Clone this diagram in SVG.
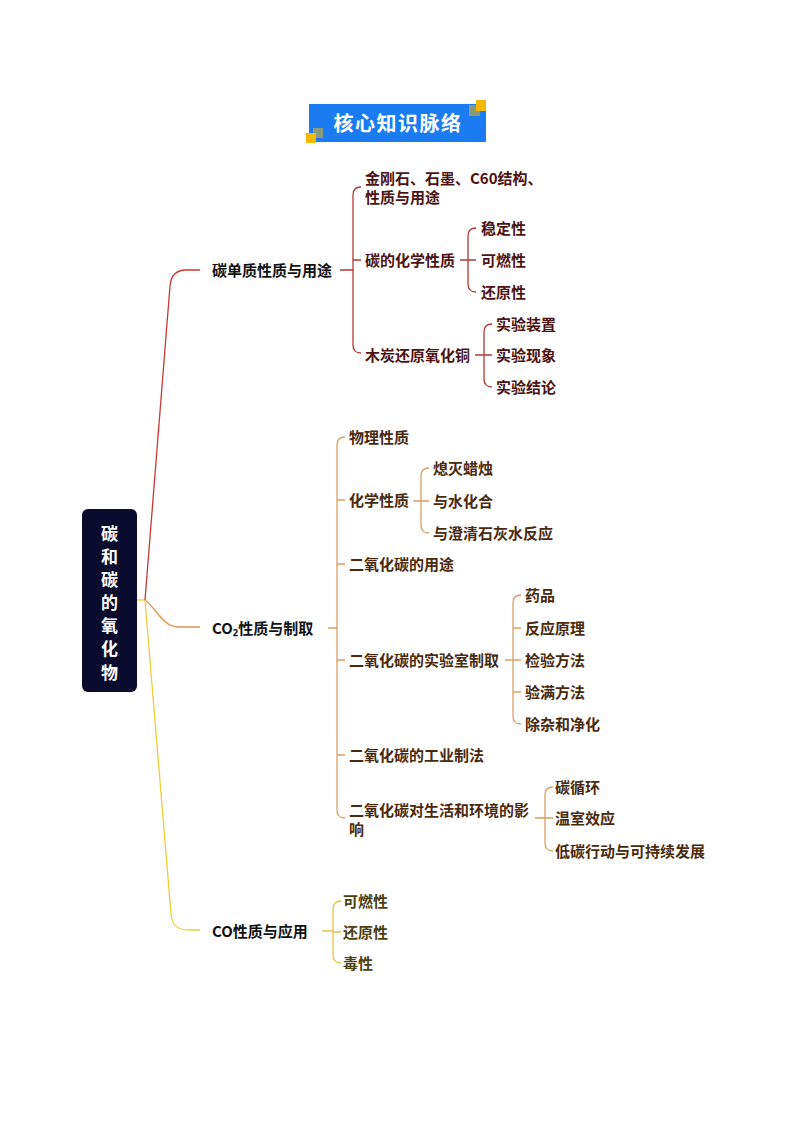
<svg xmlns="http://www.w3.org/2000/svg" width="794" height="1123" viewBox="0 0 794 1123">
<style>
text{font-family:"Noto Sans CJK SC","Noto Sans",sans-serif;dominant-baseline:central}
.title{font-size:20px;font-weight:700;fill:#ffffff;letter-spacing:1.5px}
.root{font-size:17px;font-weight:700;fill:#ffffff}
.l1{font-size:15px;font-weight:600;fill:#111111}
.c1{font-size:15px;font-weight:700;fill:#4d1212}
.c2{font-size:15px;font-weight:700;fill:#4a2a0e}
.c3{font-size:15px;font-weight:700;fill:#4a4010}
.r{fill:none;stroke:#c63a33;stroke-width:1.3}
.o{fill:none;stroke:#e0954c;stroke-width:1.3}
.y{fill:none;stroke:#f0cc3a;stroke-width:1.3}
.br1{fill:none;stroke:#b23a34;stroke-width:1.3}
.br2{fill:none;stroke:#d9a062;stroke-width:1.3}
.br3{fill:none;stroke:#e6c24a;stroke-width:1.3}
</style>
<rect width="794" height="1123" fill="#ffffff"/>

<g id="title">
  <rect x="309" y="104" width="177" height="38" fill="#1a7cf0"/>
  <rect x="469" y="105" width="11" height="11" fill="#8a9a7a"/>
  <rect x="476" y="100" width="10" height="11" fill="#f5b800"/>
  <rect x="313" y="128" width="10" height="10" fill="#8a9a7a"/>
  <rect x="306" y="133" width="10" height="10" fill="#f5b800"/>
  <text class="title" x="398" y="122" text-anchor="middle">核心知识脉络</text>
</g>

<g id="connectors">
  <path class="y" d="M136,600 H146"/>
  <path class="r" d="M145,600 L170,286 C171,275 176,270 186,270 L200,270"/>
  <path class="o" d="M145,600 C157,609 163,627 178,627 L200,627"/>
  <path class="y" d="M145,600 L171,914 C172,925 177,930 188,930 L200,930"/>

  <path class="br1" d="M340,270 H353 M361,187 Q353,187 353,195 L353,345 Q353,353 361,353 M353,260 H361"/>
  <path class="br1" d="M460,260 H468 M476,228 Q468,228 468,236 L468,284 Q468,292 476,292 M468,260 H476"/>
  <path class="br1" d="M475,355 H484 M492,324 Q484,324 484,332 L484,379 Q484,387 492,387 M484,355 H492"/>

  <path class="br2" d="M328,628 H337 M345,437 Q337,437 337,445 L337,810 Q337,818 345,818 M337,500 H345 M337,564 H345 M337,660 H345 M337,755 H345"/>
  <path class="br2" d="M413,501 H421 M429,468 Q421,468 421,476 L421,525 Q421,533 429,533 M421,501 H429"/>
  <path class="br2" d="M505,660 H513 M521,595 Q513,595 513,603 L513,716 Q513,724 521,724 M513,628 H521 M513,660 H521 M513,692 H521"/>
  <path class="br2" d="M535,818 H545 M553,787 Q545,787 545,795 L545,843 Q545,851 553,851 M545,818 H553"/>

  <path class="br3" d="M322,931 H333 M341,901 Q333,901 333,909 L333,955 Q333,963 341,963 M333,932 H341"/>
</g>

<g id="root">
  <rect x="82" y="509" width="55" height="183" rx="6" fill="#0b0b2e"/>
  <text class="root" x="109.5" y="532" text-anchor="middle">碳</text>
  <text class="root" x="109.5" y="555" text-anchor="middle">和</text>
  <text class="root" x="109.5" y="578" text-anchor="middle">碳</text>
  <text class="root" x="109.5" y="601" text-anchor="middle">的</text>
  <text class="root" x="109.5" y="624" text-anchor="middle">氧</text>
  <text class="root" x="109.5" y="647" text-anchor="middle">化</text>
  <text class="root" x="109.5" y="671" text-anchor="middle">物</text>
</g>

<g id="n-tanda"><text class="l1" x="212" y="269">碳单质性质与用途</text></g>
<g id="n-co2"><text class="l1" x="212" y="627">CO₂性质与制取</text></g>
<g id="n-co"><text class="l1" x="212" y="930">CO性质与应用</text></g>

<g id="n-jgs"><text class="c1" x="365" y="177">金刚石、石墨、C60结构、</text><text class="c1" x="365" y="196">性质与用途</text></g>
<g id="n-thxxz"><text class="c1" x="365" y="259">碳的化学性质</text></g>
<g id="n-wdx"><text class="c1" x="481" y="227">稳定性</text></g>
<g id="n-krx1"><text class="c1" x="481" y="259">可燃性</text></g>
<g id="n-hyx1"><text class="c1" x="481" y="291">还原性</text></g>
<g id="n-mthy"><text class="c1" x="365" y="354">木炭还原氧化铜</text></g>
<g id="n-syzz"><text class="c1" x="496" y="323">实验装置</text></g>
<g id="n-syxx"><text class="c1" x="496" y="354">实验现象</text></g>
<g id="n-syjl"><text class="c1" x="496" y="386">实验结论</text></g>

<g id="n-wlxz"><text class="c2" x="349" y="436">物理性质</text></g>
<g id="n-hxxz"><text class="c2" x="349" y="499">化学性质</text></g>
<g id="n-xmlz"><text class="c2" x="433" y="467">熄灭蜡烛</text></g>
<g id="n-ysh"><text class="c2" x="433" y="500">与水化合</text></g>
<g id="n-ycq"><text class="c2" x="433" y="532">与澄清石灰水反应</text></g>
<g id="n-yt"><text class="c2" x="349" y="563">二氧化碳的用途</text></g>
<g id="n-sys"><text class="c2" x="349" y="659">二氧化碳的实验室制取</text></g>
<g id="n-yp"><text class="c2" x="525" y="594">药品</text></g>
<g id="n-fyyl"><text class="c2" x="525" y="627">反应原理</text></g>
<g id="n-jyff"><text class="c2" x="525" y="659">检验方法</text></g>
<g id="n-ymff"><text class="c2" x="525" y="691">验满方法</text></g>
<g id="n-czjh"><text class="c2" x="525" y="723">除杂和净化</text></g>
<g id="n-gy"><text class="c2" x="349" y="754">二氧化碳的工业制法</text></g>
<g id="n-hj"><text class="c2" x="349" y="809">二氧化碳对生活和环境的影</text><text class="c2" x="349" y="828">响</text></g>
<g id="n-txh"><text class="c2" x="555" y="786">碳循环</text></g>
<g id="n-wsxy"><text class="c2" x="555" y="817">温室效应</text></g>
<g id="n-dt"><text class="c2" x="555" y="850">低碳行动与可持续发展</text></g>

<g id="n-krx2"><text class="c3" x="343" y="900">可燃性</text></g>
<g id="n-hyx2"><text class="c3" x="343" y="931">还原性</text></g>
<g id="n-dx"><text class="c3" x="343" y="962">毒性</text></g>
</svg>
